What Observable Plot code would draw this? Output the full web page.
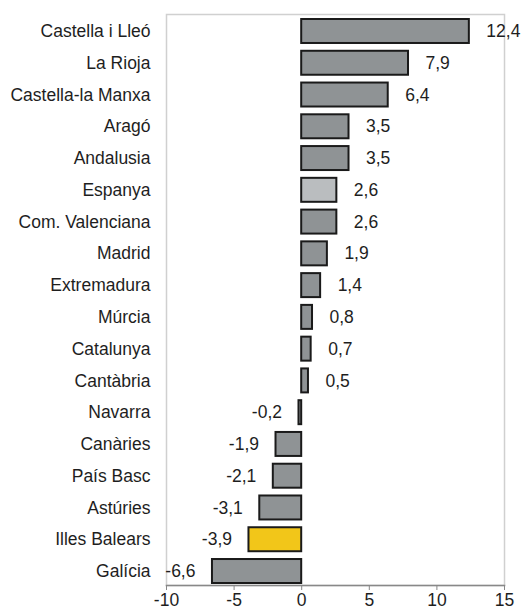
<!DOCTYPE html>
<html>
<head>
<meta charset="utf-8">
<script src="https://cdn.jsdelivr.net/npm/d3@7"></script>
<script src="https://cdn.jsdelivr.net/npm/@observablehq/plot@0.6"></script>
<style>
  html, body { margin: 0; padding: 0; background: #fff; }
  #chart svg { display: block; }
</style>
</head>
<body>
<div id="chart"></div>
<script>
const regions = ["Castella i Lleó", "La Rioja", "Castella-la Manxa", "Aragó", "Andalusia", "Espanya", "Com. Valenciana", "Madrid", "Extremadura", "Múrcia", "Catalunya", "Cantàbria", "Navarra", "Canàries", "País Basc", "Astúries", "Illes Balears", "Galícia"];
const values = [12.4, 7.9, 6.4, 3.5, 3.5, 2.6, 2.6, 1.9, 1.4, 0.8, 0.7, 0.5, -0.2, -1.9, -2.1, -3.1, -3.9, -6.6];
const xTicks = [-10, -5, 0, 5, 10, 15];
const highlightColors = {"Espanya": "#babdbf", "Illes Balears": "#f2c619"};
const baseColor = "#8f9395";

const data = regions.map((r, i) => ({region: r, value: values[i]}));
const fmt = v => v.toFixed(1).replace(".", ",");

const chart = Plot.plot({
  width: 523,
  height: 614,
  marginLeft: 166,
  marginRight: 19,
  marginTop: 14,
  marginBottom: 29,
  style: {fontFamily: "'Liberation Sans', Arial, sans-serif", fontSize: "17.5px", color: "#1e1e1e", background: "#fff"},
  x: {domain: [-10, 15], label: null},
  y: {domain: regions, paddingInner: 0.245, paddingOuter: 0, insetTop: 5, insetBottom: 2, round: false, label: null},
  marks: [
    Plot.frame({stroke: "#d0d0d0", strokeWidth: 1.5}),
    Plot.frame({anchor: "bottom", stroke: "#888", strokeWidth: 1.5}),
    Plot.axisY({tickSize: 0, tickPadding: 16, fontSize: 17.5}),
    Plot.axisX({ticks: xTicks, tickFormat: d => String(d), tickSize: 5, stroke: "#888", fontSize: 17.5, tickPadding: 3}),
    Plot.barX(data, {
      x: "value", y: "region",
      fill: d => highlightColors[d.region] || baseColor,
      stroke: "#1a1a1a", strokeWidth: 2
    }),
    Plot.text(data.filter(d => d.value >= 0), {
      x: "value", y: "region",
      text: d => fmt(d.value),
      textAnchor: "start", dx: 17,
      fill: "#1e1e1e", fontSize: 17.5
    }),
    Plot.text(data.filter(d => d.value < 0), {
      x: "value", y: "region",
      text: d => fmt(d.value),
      textAnchor: "end", dx: -17,
      fill: "#1e1e1e", fontSize: 17.5
    })
  ]
});
document.getElementById("chart").appendChild(chart);
</script>
</body>
</html>
